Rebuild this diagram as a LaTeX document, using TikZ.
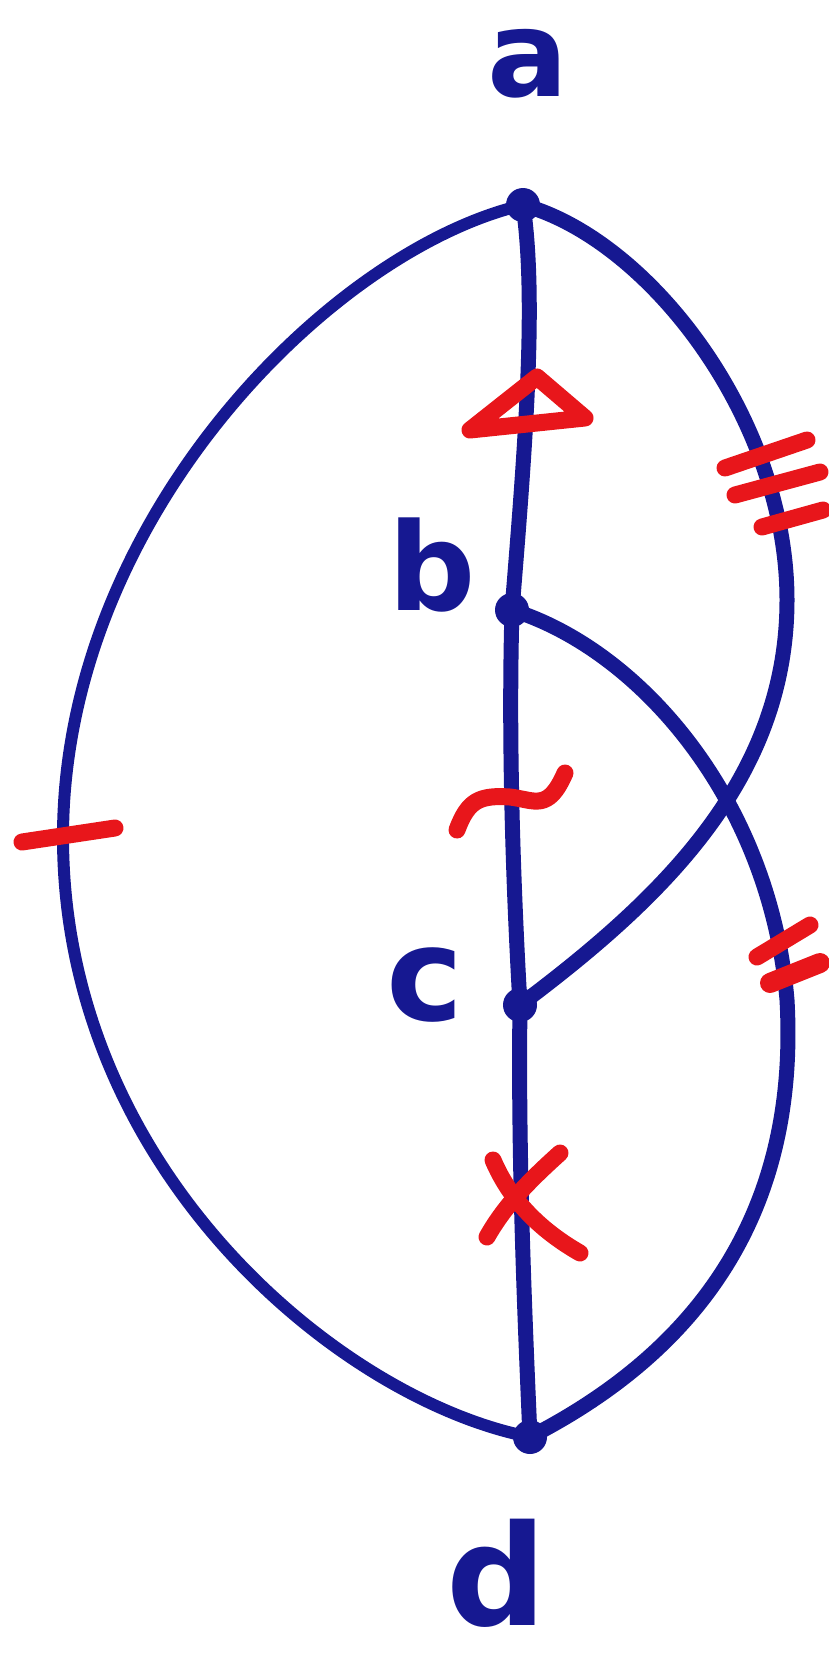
\documentclass[tikz,border=0pt]{standalone}
\usepackage{fontspec}
\setsansfont{DejaVu Sans}
\definecolor{ink}{RGB}{22,24,145}
\definecolor{pen}{RGB}{232,22,27}
\begin{document}
\begin{tikzpicture}[x=1pt,y=-1pt,
  vtx/.style={circle,fill=ink,inner sep=0pt,minimum size=34pt},
  edge/.style={draw=ink,line width=15pt,line cap=round,line join=round},
  thinedge/.style={draw=ink,line width=12pt,line cap=round,line join=round},
  redmark/.style={draw=pen,line width=17pt,line cap=round,line join=round},
  lbl/.style={text=ink,anchor=base,inner sep=0pt},
  lblfont/.style={font=\fontsize{#1}{#1}\selectfont\sffamily\bfseries}]
\useasboundingbox (0,0) rectangle (829,1659);
% vertices
\node[vtx] (a) at (523,205) {};
\node[vtx] (b) at (512,610) {};
\node[vtx] (c) at (520,1005) {};
\node[vtx] (d) at (530,1437) {};
% labels
\node[lbl,lblfont=120] (la) at (528,97) {a};
\node[lbl,lblfont=122] (lb) at (432,610) {b};
\node[lbl,lblfont=130] (lc) at (425,1020) {c};
\node[lbl,lblfont=140] (ld) at (497,1625) {d};
% left arc a--d
\draw[thinedge] (a.center) .. controls (330,250) and (63,520) .. (63,837)
                .. controls (63,1170) and (340,1400) .. (d.center);
% vertical a--b--c--d
\draw[edge] (a.center) .. controls (537,300) and (525,450) .. (b.center);
\draw[edge] (b.center) .. controls (508,750) and (514,900) .. (c.center);
\draw[edge] (c.center) .. controls (518,1150) and (524,1300) .. (d.center);
% right arc a--c
\draw[edge] (a.center) .. controls (650,240) and (787,420) .. (787,600)
            .. controls (787,780) and (660,900) .. (c.center);
% right arc b--d
\draw[edge] (b.center) .. controls (640,650) and (770,800) .. (787,1000)
            .. controls (800,1230) and (680,1360) .. (d.center);
% marks
\draw[redmark] (537,377) -- (585,418) -- (470,430) -- cycle;
\draw[redmark] (725,468) -- (807,440);
\draw[redmark] (735,495) -- (820,472);
\draw[redmark] (762,527) -- (823,510);
\draw[redmark] (22,842) -- (115,828);
\draw[redmark] (457,830) .. controls (468,800) and (480,795) .. (510,797)
               .. controls (535,800) and (548,812) .. (565,773);
\draw[redmark] (757,957) -- (810,925);
\draw[redmark,line width=20pt] (770,983) -- (820,963);
\draw[redmark] (560,1153) .. controls (530,1180) and (505,1205) .. (487,1237);
\draw[redmark] (493,1160) .. controls (510,1200) and (540,1230) .. (580,1253);
\end{tikzpicture}
\end{document}
